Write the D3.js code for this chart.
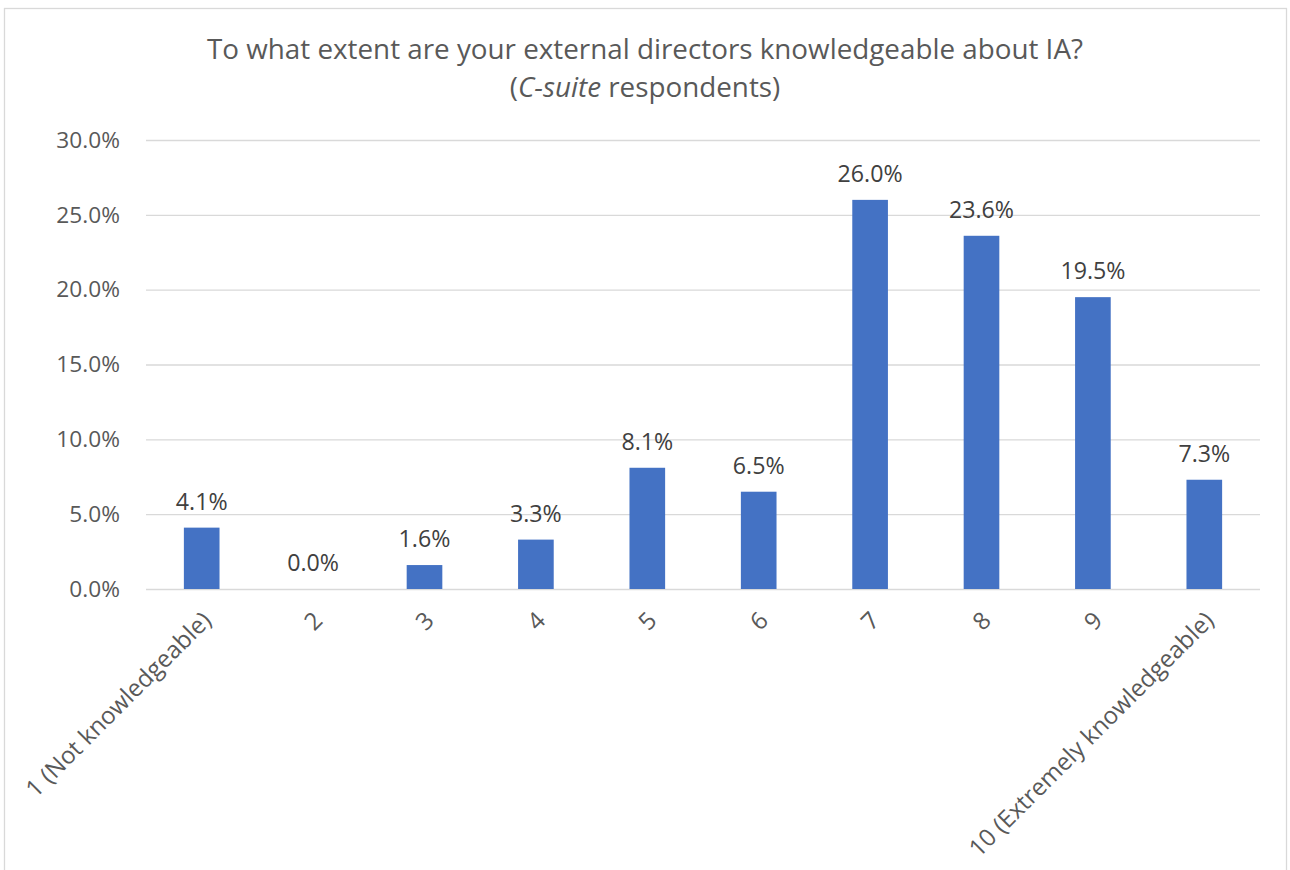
<!DOCTYPE html>
<html>
<head>
<meta charset="utf-8">
<script src="https://cdn.jsdelivr.net/npm/d3@7"></script>
<style>
  html, body { margin: 0; padding: 0; background: #ffffff; }
  svg { display: block; }
  text { font-family: "Open Sans", "Noto Sans", sans-serif; }
</style>
</head>
<body>
<svg id="chart" width="1290" height="870"></svg>
<script>
const categories = ["1 (Not knowledgeable)", "2", "3", "4", "5", "6", "7", "8", "9", "10 (Extremely knowledgeable)"];
const values = [4.1, 0.0, 1.6, 3.3, 8.1, 6.5, 26.0, 23.6, 19.5, 7.3];
const yTicks = [0, 5, 10, 15, 20, 25, 30];
const titleLine1 = "To what extent are your external directors knowledgeable about IA?";
const titleLine2Italic = "C-suite";
const titleLine2Rest = " respondents)";

const W = 1290, H = 870;
const plot = { left: 146, right: 1260, top: 140, bottom: 589 };

const svg = d3.select("#chart");

// frame
svg.append("rect")
  .attr("x", 4.5).attr("y", 8.5)
  .attr("width", 1282).attr("height", 900)
  .attr("fill", "#ffffff")
  .attr("stroke", "#d9d9d9").attr("stroke-width", 1.3);

const x = d3.scaleBand()
  .domain(categories)
  .range([plot.left, plot.right])
  .paddingInner(0.68).paddingOuter(0.34);

const y = d3.scaleLinear()
  .domain([0, 30])
  .range([plot.bottom, plot.top]);

// gridlines + y axis labels
const yAxis = d3.axisLeft(y)
  .tickValues(yTicks)
  .tickSize(-(plot.right - plot.left))
  .tickPadding(26)
  .tickFormat(d => d.toFixed(1) + "%");

const gy = svg.append("g")
  .attr("transform", `translate(${plot.left},0)`)
  .call(yAxis);
gy.select(".domain").remove();
gy.selectAll(".tick line").attr("stroke", "#d9d9d9").attr("stroke-width", 1.3);
gy.selectAll(".tick text")
  .attr("fill", "#595959")
  .style("font-size", "22.7px")
  .style("font-family", '"Open Sans", sans-serif');

// bars
svg.append("g").selectAll("rect")
  .data(values)
  .join("rect")
  .attr("x", (d, i) => x(categories[i]))
  .attr("width", x.bandwidth())
  .attr("y", d => y(d))
  .attr("height", d => y(0) - y(d))
  .attr("fill", "#4472c4");

// data labels
svg.append("g").selectAll("text")
  .data(values)
  .join("text")
  .attr("x", (d, i) => x(categories[i]) + x.bandwidth() / 2)
  .attr("y", d => y(d) - 18)
  .attr("text-anchor", "middle")
  .attr("fill", "#404040")
  .style("font-size", "23.2px")
  .text(d => d.toFixed(1) + "%");

// x axis labels (rotated)
const xAxis = d3.axisBottom(x).tickSize(0).tickPadding(0);
const gx = svg.append("g")
  .attr("transform", `translate(0,${plot.bottom})`)
  .call(xAxis);
gx.select(".domain").remove();
gx.selectAll(".tick text")
  .attr("fill", "#595959")
  .style("font-size", "24px")
  .style("font-family", '"Open Sans", sans-serif')
  .attr("text-anchor", "end")
  .attr("x", 0).attr("y", 0).attr("dy", "0.35em")
  .attr("transform", "translate(5,27) rotate(-45)");

// title
const title = svg.append("text")
  .attr("x", 645)
  .attr("text-anchor", "middle")
  .attr("fill", "#595959")
  .style("font-size", "27.8px");
title.append("tspan").attr("x", 645).attr("y", 59).text(titleLine1);
const l2 = title.append("tspan").attr("x", 645).attr("y", 97);
l2.text("(");
title.append("tspan").style("font-style", "italic").text(titleLine2Italic);
title.append("tspan").text(titleLine2Rest);
</script>
</body>
</html>
